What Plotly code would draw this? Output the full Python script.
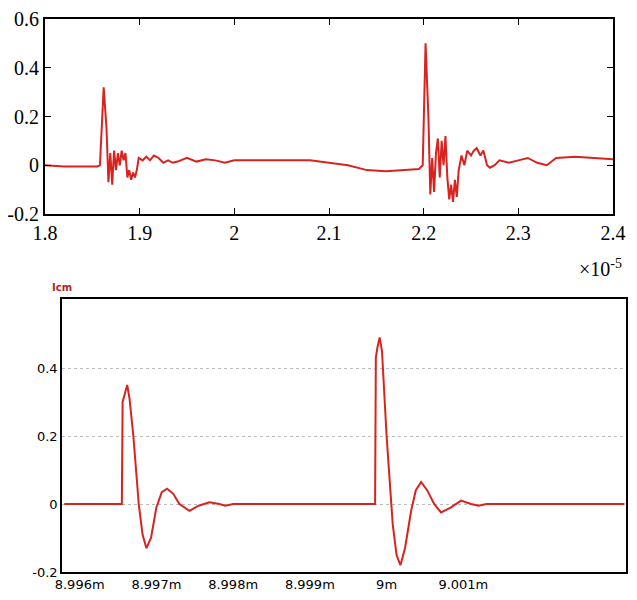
import plotly.graph_objects as go

# top: measured current, time in units of 1e-5 s
top_t = [1.80, 1.82, 1.84, 1.855, 1.858, 1.862, 1.865, 1.867, 1.869, 1.871, 1.873, 1.875,
         1.877, 1.879, 1.881, 1.883, 1.885, 1.887, 1.889, 1.891, 1.893, 1.895, 1.897, 1.899,
         1.903, 1.907, 1.911, 1.915, 1.92, 1.925, 1.93, 1.935, 1.94, 1.95, 1.96, 1.97, 1.98,
         1.99, 2.0, 2.05, 2.08, 2.1, 2.12, 2.14, 2.16, 2.18, 2.195, 2.199, 2.202, 2.205, 2.207,
         2.209, 2.211, 2.213, 2.215, 2.217, 2.219, 2.221, 2.223, 2.225, 2.227, 2.229, 2.231,
         2.233, 2.235, 2.237, 2.24, 2.243, 2.246, 2.25, 2.253, 2.256, 2.26, 2.263, 2.267, 2.27,
         2.275, 2.28, 2.29, 2.3, 2.31, 2.32, 2.33, 2.34, 2.36, 2.38, 2.4]
top_i = [0.0, -0.005, -0.005, -0.005, 0.0, 0.32, 0.15, -0.07, 0.05, -0.08, 0.06, -0.02,
         0.05, 0.0, 0.06, 0.02, 0.05, -0.05, -0.02, -0.06, -0.03, -0.05, -0.02, 0.03,
         0.02, 0.035, 0.02, 0.04, 0.03, 0.01, 0.02, 0.01, 0.015, 0.03, 0.015, 0.025, 0.02,
         0.01, 0.02, 0.02, 0.02, 0.01, 0.0, -0.02, -0.025, -0.02, -0.015, 0.0, 0.5, 0.2, -0.12,
         0.03, -0.11, 0.05, 0.11, -0.05, 0.1, 0.0, 0.12, -0.05, -0.14, -0.08, -0.15,
         -0.06, -0.13, -0.02, 0.04, 0.0, 0.06, 0.04, 0.06, 0.07, 0.04, 0.06, 0.0, -0.01,
         0.0, 0.02, 0.01, 0.02, 0.03, 0.01, 0.0, 0.03, 0.035, 0.03, 0.025]

# bottom: simulated Icm, time in ms
sim_t = [8.9958, 8.99655, 8.99656, 8.99659, 8.99662, 8.99665, 8.9967, 8.99677, 8.99682,
         8.99687, 8.99693, 8.997, 8.99707, 8.99714, 8.99722, 8.9973, 8.99743, 8.99755,
         8.99769, 8.99782, 8.9979, 8.998, 8.99985, 8.99986, 8.99988, 8.99991, 8.99994,
         9.0, 9.00008, 9.00013, 9.00018, 9.00024, 9.00032, 9.00038, 9.00045, 9.00053,
         9.00062, 9.00071, 9.00084, 9.00097, 9.0011, 9.0012, 9.0013, 9.0031]
sim_i = [0.0, 0.0, 0.3, 0.33, 0.35, 0.31, 0.2, 0.0, -0.09,
         -0.13, -0.1, -0.01, 0.035, 0.045, 0.03, 0.0, -0.02, -0.005,
         0.005, 0.0, -0.005, 0.0, 0.0, 0.43, 0.46, 0.49, 0.45,
         0.2, -0.06, -0.15, -0.18, -0.13, -0.02, 0.04, 0.065, 0.04,
         0.0, -0.025, -0.01, 0.01, 0.0, -0.005, 0.0, 0.0]

bot_ticks = [8.996, 8.997, 8.998, 8.999, 9.0, 9.001]
bot_labels = ["8.996m", "8.997m", "8.998m", "8.999m", "9m", "9.001m"]

red = "#d8231f"
# the page body has an 8px margin; run to the right edge, stay inside vertically
OFF = 8
W, H = 637 - OFF, 600 - 2 * OFF


def px(x):
    return (x - OFF) / W


def py(y):
    return 1 - (y - OFF) / H


fig = go.Figure()
fig.add_trace(go.Scatter(x=top_t, y=top_i, mode="lines", line=dict(color=red, width=2),
                         xaxis="x", yaxis="y", showlegend=False))
fig.add_trace(go.Scatter(x=sim_t, y=sim_i, mode="lines", line=dict(color=red, width=2),
                         xaxis="x2", yaxis="y2", showlegend=False))

serif = dict(family="Liberation Serif", size=20, color="black")
sans = dict(family="DejaVu Sans", size=13, color="black")

fig.update_layout(
    width=W, height=H, margin=dict(l=0, r=0, t=0, b=0),
    plot_bgcolor="white", paper_bgcolor="white",
    xaxis=dict(domain=[px(45), px(613)], range=[1.8, 2.4], tickvals=[1.8, 1.9, 2, 2.1, 2.2, 2.3, 2.4],
               ticktext=["1.8", "1.9", "2", "2.1", "2.2", "2.3", "2.4"], automargin=False,
               ticklabeloverflow="allow",
               anchor="y", showline=True, linecolor="black", linewidth=2, mirror="ticks",
               ticks="inside", ticklen=6, tickcolor="black", showgrid=False, zeroline=False,
               tickfont=serif),
    yaxis=dict(domain=[py(214), py(19)], range=[-0.2, 0.6], tickvals=[-0.2, 0, 0.2, 0.4, 0.6],
               ticktext=["-0.2", "0", "0.2", "0.4", "0.6"], automargin=False,
               ticklabeloverflow="allow",
               anchor="x", showline=True, linecolor="black", linewidth=2, mirror="ticks",
               ticks="inside", ticklen=6, tickcolor="black", showgrid=False, zeroline=False,
               tickfont=serif),
    xaxis2=dict(domain=[px(62), px(626)], range=[8.99577, 9.00312], tickvals=bot_ticks,
                ticktext=bot_labels, anchor="y2", showline=True, linecolor="black", linewidth=1.5,
                mirror=True, ticks="", showgrid=False, zeroline=False, tickfont=sans,
                automargin=False, ticklabeloverflow="allow"),
    yaxis2=dict(domain=[py(572), py(299)], range=[-0.2, 0.603], tickvals=[-0.2, 0, 0.2, 0.4],
                ticktext=["-0.2", "0", "0.2", "0.4"], anchor="x2", showline=True, linecolor="black",
                linewidth=1.5, mirror=True, ticks="", showgrid=True, gridcolor="#bbbbbb",
                griddash="dot", zeroline=False, tickfont=sans, automargin=False,
                ticklabeloverflow="allow"),
    annotations=[
        dict(text="×10<sup>-5</sup>", x=px(624), y=py(268), xref="paper", yref="paper",
             xanchor="right", yanchor="middle", showarrow=False, font=serif),
        dict(text="<b>Icm</b>", x=px(50), y=py(287), xref="paper", yref="paper",
             xanchor="left", yanchor="middle", showarrow=False,
             font=dict(family="DejaVu Sans", size=10, color="#b22222")),
    ],
)

fig.write_html("out.html")
